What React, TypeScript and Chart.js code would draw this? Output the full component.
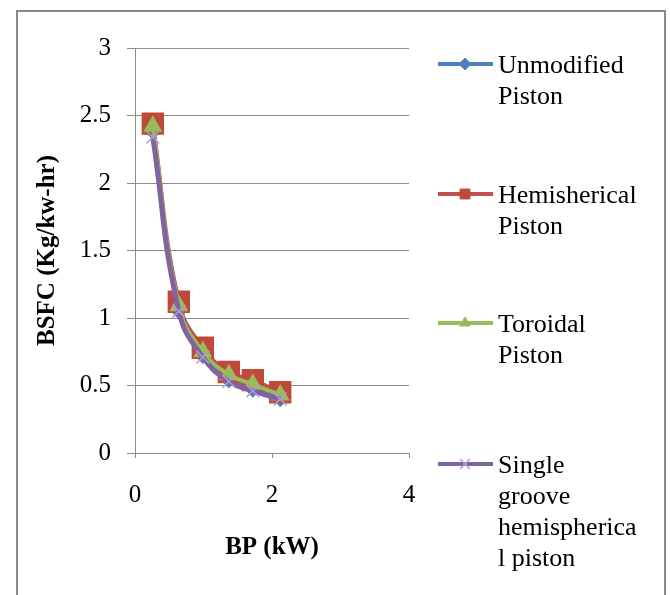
import React, { useEffect, useRef } from "react";
import { Chart, registerables } from "chart.js";
import { drawPoint } from "chart.js/helpers";

Chart.register(...registerables);

// ---- data ----
const BP = [0.26, 0.64, 0.99, 1.37, 1.72, 2.12];
const UNMODIFIED = [2.4, 1.07, 0.74, 0.56, 0.49, 0.42];
const HEMISPHERICAL = [2.44, 1.12, 0.78, 0.6, 0.54, 0.45];
const TOROIDAL = [2.42, 1.09, 0.75, 0.58, 0.51, 0.43];
const SINGLE_GROOVE = [2.34, 1.05, 0.71, 0.53, 0.46, 0.4];

const SERIES_LABELS = [
  "Unmodified Piston",
  "Hemisherical Piston",
  "Toroidal Piston",
  "Single groove hemispherical piston",
];
const LEGEND_LINES = [
  ["Unmodified", "Piston"],
  ["Hemisherical", "Piston"],
  ["Toroidal", "Piston"],
  ["Single", "groove", "hemispherica", "l piston"],
];
const X_TICKS = [0, 2, 4];
const Y_TICKS = [0, 0.5, 1, 1.5, 2, 2.5, 3];
const X_TITLE = "BP (kW)";
const Y_TITLE = "BSFC (Kg/kw-hr)";

const COLORS = ["#4F81BD", "#C0504D", "#9BBB59", "#8064A2"];
const GRID = "#8c8c8c";
const SERIF = '"Liberation Serif", "Times New Roman", serif';

const toPts = (vals: number[]) => BP.map((x, i) => ({ x, y: vals[i] }));

const LEGEND_Y = [64, 194, 323, 464];
const LEGEND_MARKERS = [
  { pointStyle: "rectRot", radius: 6, fill: true },
  { pointStyle: "rect", radius: 7, fill: true },
  { pointStyle: "triangle", radius: 6, fill: true },
  { pointStyle: "crossRot", radius: 7, fill: false },
];

const framePlugin = {
  id: "frame",
  beforeDraw(chart: any) {
    const { ctx, width, height } = chart;
    ctx.save();
    ctx.fillStyle = "#ffffff";
    ctx.fillRect(0, 0, width, height);
    ctx.strokeStyle = "#8a8a8a";
    ctx.lineWidth = 2;
    ctx.strokeRect(17, 11, 648, height + 20);
    ctx.restore();
  },
};

const legendPlugin = {
  id: "sideLegend",
  afterDraw(chart: any) {
    const { ctx } = chart;
    ctx.save();
    chart.data.datasets.forEach((ds: any, i: number) => {
      const y = LEGEND_Y[i];
      ctx.strokeStyle = ds.borderColor;
      ctx.lineWidth = 4;
      ctx.lineCap = "butt";
      ctx.beginPath();
      ctx.moveTo(438, y);
      ctx.lineTo(493, y);
      ctx.stroke();
      const m = LEGEND_MARKERS[i];
      ctx.fillStyle = ds.pointBackgroundColor;
      ctx.strokeStyle = ds.pointBorderColor;
      ctx.lineWidth = m.fill ? 1 : 1.5;
      drawPoint(ctx, { pointStyle: m.pointStyle, rotation: 0, radius: m.radius, borderWidth: ctx.lineWidth } as any, 465, y);
      ctx.fillStyle = "#000";
      ctx.font = `26px ${SERIF}`;
      ctx.textBaseline = "middle";
      ctx.textAlign = "left";
      LEGEND_LINES[i].forEach((line, k) => {
        ctx.fillText(line, 498, y + 2 + k * 31);
      });
    });
    ctx.restore();
  },
};

const fmt = (v: any) => String(Number(v));

export default function App() {
  const ref = useRef<HTMLCanvasElement>(null);

  useEffect(() => {
    const chart = new Chart(ref.current!, {
      type: "line",
      data: {
        datasets: [
          {
            label: SERIES_LABELS[0],
            data: toPts(UNMODIFIED),
            borderColor: COLORS[0],
            backgroundColor: COLORS[0],
            pointBackgroundColor: COLORS[0],
            pointBorderColor: COLORS[0],
            pointStyle: "rectRot",
            pointRadius: 8,
            borderWidth: 4,
            order: 4,
          },
          {
            label: SERIES_LABELS[1],
            data: toPts(HEMISPHERICAL),
            borderColor: COLORS[1],
            backgroundColor: COLORS[1],
            pointBackgroundColor: "#BF4A3C",
            pointBorderColor: "#BF4A3C",
            pointStyle: "rect",
            pointRadius: 13,
            borderWidth: 4,
            order: 3,
          },
          {
            label: SERIES_LABELS[2],
            data: toPts(TOROIDAL),
            borderColor: COLORS[2],
            backgroundColor: COLORS[2],
            pointBackgroundColor: COLORS[2],
            pointBorderColor: COLORS[2],
            pointStyle: "triangle",
            pointRadius: 7,
            borderWidth: 4,
            order: 2,
          },
          {
            label: SERIES_LABELS[3],
            data: toPts(SINGLE_GROOVE),
            borderColor: COLORS[3],
            backgroundColor: COLORS[3],
            pointBackgroundColor: "#a99fd6",
            pointBorderColor: "#a99fd6",
            pointStyle: "crossRot",
            pointRadius: 9,
            pointBorderWidth: 1.5,
            borderWidth: 5,
            order: 1,
          },
        ],
      },
      options: {
        responsive: false,
        devicePixelRatio: 1,
        animation: false,
        layout: { padding: { top: 48, right: 261, left: 0, bottom: 0 } },
        elements: { line: { tension: 0.45 } },
        plugins: { legend: { display: false }, tooltip: { enabled: false } },
        scales: {
          x: {
            type: "linear",
            min: 0,
            max: 4,
            afterBuildTicks: (s: any) => {
              s.ticks = X_TICKS.map((v) => ({ value: v }));
            },
            afterFit: (s: any) => {
              s.height = 142;
            },
            ticks: {
              color: "#000",
              font: { family: SERIF, size: 25 },
              padding: 22,
              maxRotation: 0,
              callback: fmt,
            },
            grid: { drawOnChartArea: false, color: GRID, tickLength: 5 },
            border: { color: GRID, width: 1 },
            title: {
              display: true,
              text: X_TITLE,
              color: "#000",
              font: { family: SERIF, size: 25, weight: "bold" },
              padding: { top: 0, bottom: 32 },
            },
          },
          y: {
            type: "linear",
            min: 0,
            max: 3,
            afterBuildTicks: (s: any) => {
              s.ticks = Y_TICKS.map((v) => ({ value: v }));
            },
            afterFit: (s: any) => {
              s.width = 135;
            },
            ticks: {
              color: "#000",
              font: { family: SERIF, size: 25 },
              padding: 16,
              callback: fmt,
            },
            grid: { color: GRID, tickLength: 8 },
            border: { color: GRID, width: 1 },
            title: {
              display: true,
              text: Y_TITLE,
              color: "#000",
              font: { family: SERIF, size: 25, weight: "bold" },
              padding: { top: 33, bottom: 0 },
            },
          },
        },
      },
      plugins: [framePlugin, legendPlugin],
    } as any);
    return () => chart.destroy();
  }, []);

  return (
    <div style={{ position: "absolute", left: 0, top: 0, width: 670, height: 595, background: "#fff" }}>
      <canvas ref={ref} width={670} height={595} style={{ display: "block" }} />
    </div>
  );
}
